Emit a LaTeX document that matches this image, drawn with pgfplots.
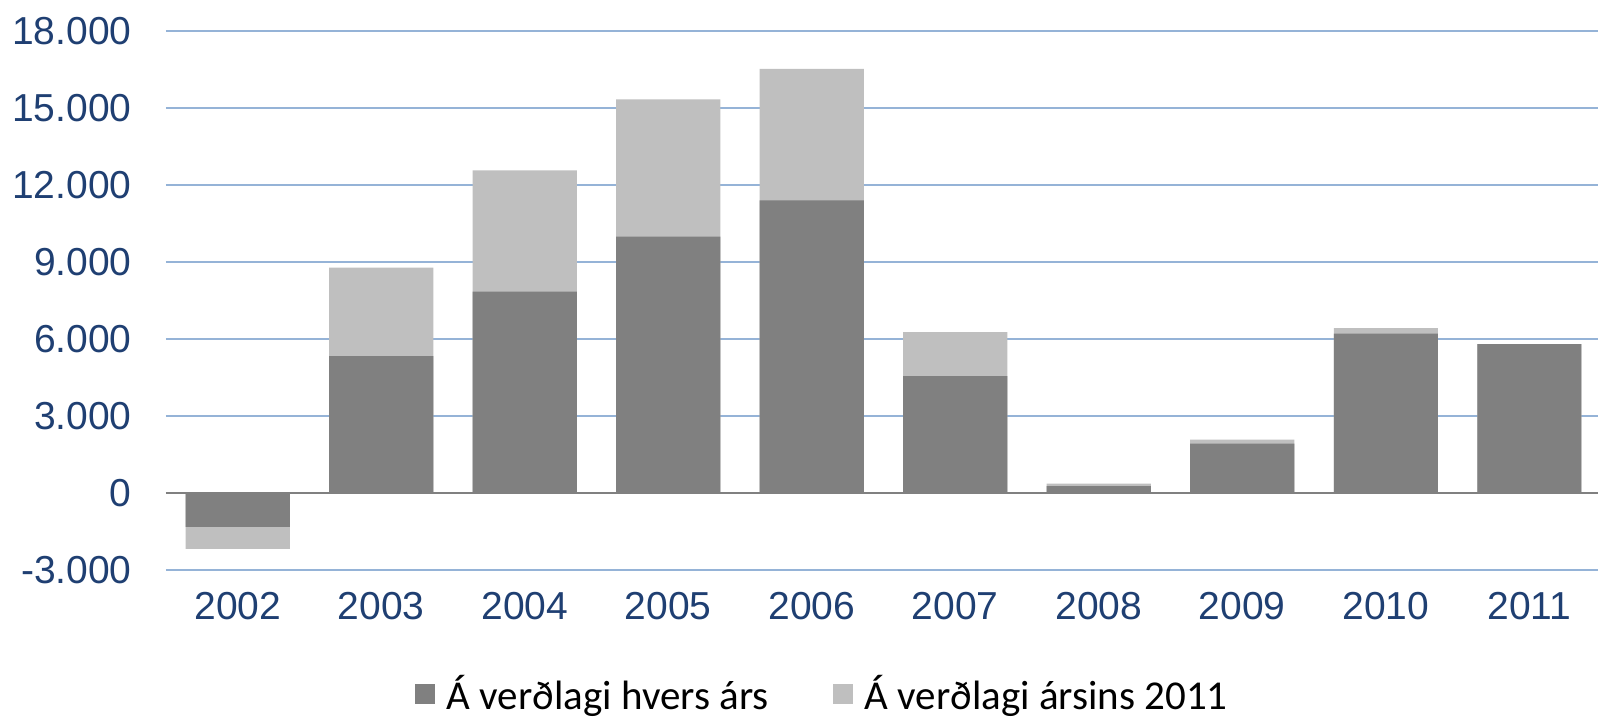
\documentclass[border=0pt]{standalone}
\usepackage{fontspec}
\setmainfont{Liberation Sans}
\newfontfamily\calibri{Carlito}
\usepackage{pgfplots}
\pgfplotsset{compat=1.18}
\definecolor{tickblue}{HTML}{1F3F72}
\definecolor{gridblue}{HTML}{95B3D7}
\definecolor{darkbar}{HTML}{808080}
\definecolor{lightbar}{HTML}{BFBFBF}
\begin{document}
\begin{tikzpicture}
\useasboundingbox (0,0) rectangle (799pt,359.5pt);
\begin{axis}[
  at={(83pt,74.5pt)}, anchor=south west,
  scale only axis, width=717.5pt, height=269.5pt,
  xmin=-0.5, xmax=9.5, ymin=-3000, ymax=18000,
  axis line style={draw=none},
  scaled y ticks=false,
  ybar, bar width=0.725, bar shift=0pt,
  xtick={0,...,9},
  xticklabels={2002,2003,2004,2005,2006,2007,2008,2009,2010,2011},
  ytick={-3000,0,3000,6000,9000,12000,15000,18000},
  yticklabels={-3.000,0,3.000,6.000,9.000,12.000,15.000,18.000},
  major tick length=0pt,
  ymajorgrids, grid style={gridblue, line width=1.1pt},
  tick label style={font=\fontsize{19.5}{23}\selectfont, text=tickblue, inner sep=0pt},
  yticklabel style={anchor=east, xshift=-17pt},
  xticklabel style={anchor=north, yshift=-11pt},
  legend columns=2,
  legend style={at={(0.458,0)}, anchor=center, yshift=-62pt, draw=none,
    font=\calibri\fontsize{20.5}{24}\selectfont, column sep=0pt,
    /tikz/every odd column/.append style={column sep=4pt},
    /tikz/every even column/.append style={column sep=30pt}},
  legend image code/.code={\fill[#1] (0pt,-5pt) rectangle (10pt,5pt);},
]
\addplot[fill=lightbar, draw=none, forget plot] coordinates {
  (0,-2180) (1,8780) (2,12570) (3,15340) (4,16520)
  (5,6270) (6,370) (7,2080) (8,6420) (9,5800)};
\addplot[fill=darkbar, draw=none] coordinates {
  (0,-1320) (1,5330) (2,7850) (3,9990) (4,11400)
  (5,4550) (6,270) (7,1920) (8,6210) (9,5800)};
\addlegendentry{Á verðlagi hvers árs}
\addlegendimage{fill=lightbar, draw=none}
\addlegendentry{Á verðlagi ársins 2011}
\draw[darkbar, line width=1.2pt] (axis cs:-0.5,0) -- (axis cs:9.5,0);
\end{axis}
\end{tikzpicture}
\end{document}
